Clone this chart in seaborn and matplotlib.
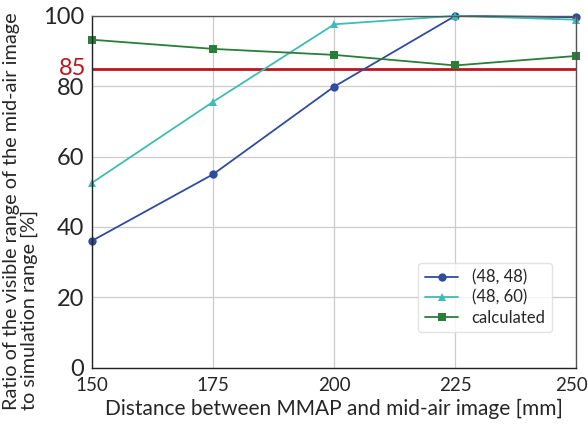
import matplotlib
matplotlib.use("Agg")
import matplotlib.pyplot as plt
import matplotlib.transforms as mtransforms
import seaborn as sns
import pandas as pd

# Distance between MMAP and mid-air image [mm]
distance = [150, 175, 200, 225, 250]
# Visible range ratio [%] for each configuration
ratio_48_48 = [36.1, 55.0, 79.9, 100.0, 99.6]
ratio_48_60 = [52.6, 75.6, 97.6, 100.0, 98.9]
ratio_calculated = [93.2, 90.6, 88.9, 85.9, 88.6]
threshold = 85

series_names = ["(48, 48)", "(48, 60)", "calculated"]
series_colors = ["#2f4c9e", "#3dbcb8", "#2b7d3a"]
series_markers = ["o", "^", "s"]

df = pd.DataFrame({
    "distance": distance * 3,
    "ratio": ratio_48_48 + ratio_48_60 + ratio_calculated,
    "series": [s for s in series_names for _ in distance],
})

sns.set_theme(style="whitegrid")
plt.rcParams["font.family"] = ["Lato", "DejaVu Sans"]

fig = plt.figure(figsize=(5.88, 4.28), dpi=100)
ax = fig.add_axes([0.157, 0.141, 0.823, 0.822])

sns.lineplot(
    data=df, x="distance", y="ratio", hue="series", style="series",
    hue_order=series_names, style_order=series_names,
    palette=series_colors, markers=series_markers, dashes=False,
    markersize=6, linewidth=1.3, markeredgewidth=0, ax=ax, clip_on=False,
)

ax.axhline(threshold, color="#c0141c", linewidth=2.0, zorder=1.5)

ax.set_xlim(150, 250)
ax.set_ylim(0, 100)
ax.set_xticks(distance)
ax.set_yticks([0, 20, 40, 60, 80, 100])
ax.tick_params(axis="both", labelsize=17, length=4, width=0.8,
               color="#333333", direction="out", pad=2)
ax.tick_params(axis="x", labelsize=13.5, pad=3)
ax.grid(True, color="#cccccc", linewidth=0.9)

# Nudge the last x tick label inward so it stays inside the figure
last_label = ax.get_xticklabels()[-1]
last_label.set_transform(last_label.get_transform() +
                         mtransforms.ScaledTranslation(-5 / 100, 0, fig.dpi_scale_trans))

# Extra red tick label for the threshold
ax.text(-0.012, threshold, str(threshold), transform=ax.get_yaxis_transform(),
        ha="right", va="center", color="#c0141c", fontsize=17)

for side in ["left", "bottom"]:
    ax.spines[side].set_color("#222222")
    ax.spines[side].set_linewidth(1.0)
for side in ["top", "right"]:
    ax.spines[side].set_color("#555555")
    ax.spines[side].set_linewidth(1.0)

ax.set_xlabel("Distance between MMAP and mid-air image [mm]", fontsize=15, labelpad=3)
ax.set_ylabel("Ratio of the visible range of the mid-air image\nto simulation range [%]",
              fontsize=14.3, labelpad=3, linespacing=1.0, multialignment="left")
ax.yaxis.set_label_coords(-0.113, 0.445)

leg = ax.legend(loc="lower right", bbox_to_anchor=(0.95, 0.1), borderaxespad=0,
                fontsize=12, frameon=True, handlelength=2.0, borderpad=0.4,
                labelspacing=0.25, handletextpad=0.8)
leg.get_frame().set_edgecolor("#dddddd")

fig.savefig("out.png", dpi=100)
